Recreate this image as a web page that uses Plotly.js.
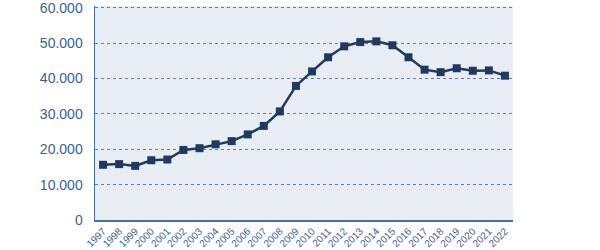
<!DOCTYPE html>
<html><head><meta charset="utf-8">
<script src="https://cdn.plot.ly/plotly-3.0.1.min.js"></script>
<style>html,body{margin:0;padding:0;background:#fff}#c{width:600px;height:250px}</style>
</head><body><div id="c"></div>
<script>
const years = ['1997','1998','1999','2000','2001','2002','2003','2004','2005','2006','2007','2008','2009','2010','2011','2012','2013','2014','2015','2016','2017','2018','2019','2020','2021','2022'];
const values = [15600,15800,15300,16900,17100,19800,20300,21400,22300,24200,26600,30700,37900,42000,46000,49100,50300,50500,49400,46000,42500,41800,42900,42200,42300,40800];
const yTicks = [0,10000,20000,30000,40000,50000,60000];

Plotly.newPlot('c',[{
  x: years, y: values, type:'scatter', mode:'lines+markers',
  line:{color:'#1f3a60',width:2.5},
  marker:{symbol:'square',size:8,color:'#1f3a60'},
  hoverinfo:'skip'
}],{
  width:600,height:250,
  margin:{l:95,r:87,t:6,b:30},
  paper_bgcolor:'#ffffff',plot_bgcolor:'#e8ecf3',
  separators:',.',
  showlegend:false,
  font:{family:'Arial, Liberation Sans, sans-serif',color:'#3c5f95'},
  xaxis:{type:'category',range:[-0.5,25.5],tickangle:-45,tickfont:{size:10,color:'#3c5f95'},
    showline:true,linecolor:'#4a6fa5',linewidth:1.5,showgrid:false,ticks:'',ticklabelstandoff:0,fixedrange:true},
  yaxis:{range:[0,60500],tickvals:yTicks,tickformat:',d',tickfont:{size:14,color:'#3c5f95'},
    showline:true,linecolor:'#4a6fa5',linewidth:1.5,gridcolor:'#5b7bb0',griddash:'dot',gridwidth:1,
    zeroline:false,ticks:'',ticklabelstandoff:8,ticklabeloverflow:'allow',fixedrange:true}
},{staticPlot:true});
</script></body></html>
